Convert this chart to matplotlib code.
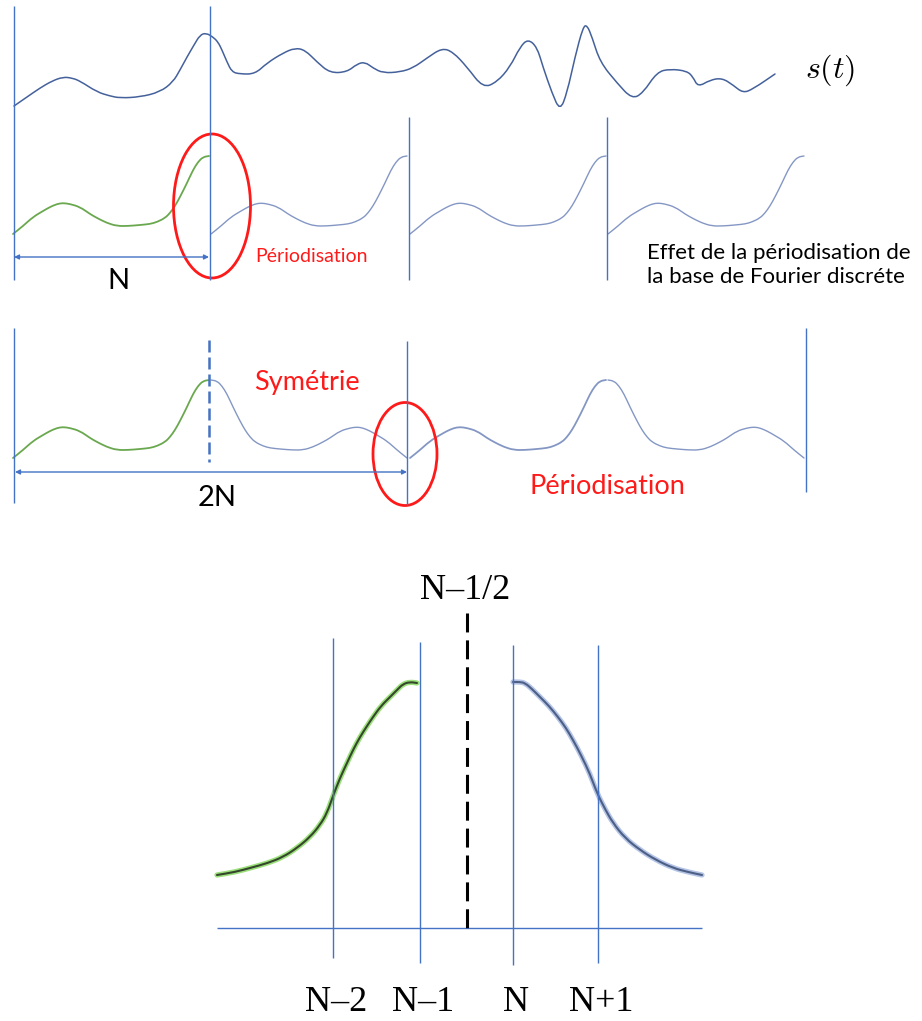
import numpy as np
import matplotlib.pyplot as plt
from matplotlib.patches import Ellipse, PathPatch
from matplotlib.path import Path

plt.rcParams['mathtext.fontset'] = 'cm'

# all coordinates are in image pixels (y grows downwards)

# original signal s(t)
signal_x = [14, 27, 40, 52, 63, 72, 80, 97, 110, 120, 140, 160, 173, 180, 187, 194, 200, 206,
            213, 218, 222, 227, 232, 240, 255, 267, 283, 295, 305, 317, 330, 347, 357, 365,
            373, 383, 400, 413, 427, 442, 453, 467, 483, 497, 510, 520, 528, 537, 543, 552,
            560, 567, 575, 583, 587, 592, 600, 617, 632, 643, 657, 670, 687, 693, 698, 710,
            722, 733, 743, 753, 775]
signal_y = [106, 97, 88, 81, 77, 78, 81, 92, 96, 98, 97, 92, 82, 70, 57, 45, 35, 33,
            37, 42, 50, 62, 72, 74, 74, 63, 53, 48, 50, 62, 73, 72, 64, 62,
            68, 73, 72, 68, 58, 48, 52, 67, 88, 82, 67, 47, 39, 47, 67, 93,
            111, 93, 57, 27, 25, 37, 62, 83, 99, 93, 72, 69, 71, 77, 87, 80,
            78, 85, 93, 89, 74]

# one period of the truncated signal (N samples)
period_x = [13, 23, 33, 43, 50, 57, 63, 70, 80, 90, 97, 107, 117, 128, 140, 150, 157, 165,
            170, 175, 180, 187, 193, 198, 203, 209]
period_y = [234, 226, 217, 211, 207, 204, 203, 204, 207, 214, 218, 223, 226, 226, 225, 224,
            222, 218, 213, 206, 197, 183, 170, 162, 157, 156]

# zoom on the symmetric extension around N-1/2
bell_left_x = [217, 235, 250, 268, 283, 297, 310, 320, 327, 333, 340, 347, 353, 360, 367,
               373, 381, 390, 397, 403, 410, 417]
bell_left_y = [875, 872, 868, 863, 857, 848, 837, 825, 813, 796, 778, 763, 750, 737, 726,
               717, 706, 697, 690, 684, 682, 683]
bell_right_x = [513, 520, 525, 532, 540, 549, 558, 566, 573, 581, 590, 597, 605, 613, 625,
                640, 656, 673, 688, 702]
bell_right_y = [682, 682, 683, 689, 697, 706, 717, 728, 740, 755, 774, 793, 809, 823, 838,
                850, 860, 868, 872, 875]

grid_labels = ['N–2', 'N–1', 'N', 'N+1']
grid_x = [333, 420, 513, 598]

BLUE = '#4472c4'
DARK_BLUE = '#44619b'
LIGHT_BLUE = '#8497c4'
GREEN = '#6aa84f'
RED = '#ff1a1a'
SANS = ['Lato', 'DejaVu Sans']
SERIF = ['Liberation Serif', 'DejaVu Serif']


def smooth_curve(ax, xs, ys, **kw):
    # quadratic bezier through the midpoints, corners become round
    pts = np.column_stack([xs, ys]).astype(float)
    verts = [pts[0], (pts[0] + pts[1]) / 2]
    codes = [Path.MOVETO, Path.LINETO]
    for i in range(1, len(pts) - 1):
        verts += [pts[i], (pts[i] + pts[i + 1]) / 2]
        codes += [Path.CURVE3, Path.CURVE3]
    verts.append(pts[-1])
    codes.append(Path.LINETO)
    ax.add_patch(PathPatch(Path(verts, codes), fill=False, capstyle='round', **kw))


fig = plt.figure(figsize=(9.22, 10.21), dpi=100)
ax = fig.add_axes([0, 0, 1, 1])
ax.set_xlim(0, 922)
ax.set_ylim(1021, 0)
ax.axis('off')

px = np.array(period_x, dtype=float)
py = np.array(period_y, dtype=float)

# --- row 1 : s(t)
smooth_curve(ax, signal_x, signal_y, ec=DARK_BLUE, lw=1.1)
ax.vlines([14, 210], 6, 280, color=BLUE, lw=1.0)
ax.text(830, 70, r'$s(t)$', fontsize=23, ha='center', va='center')

# --- row 2 : periodisation of the DFT basis
smooth_curve(ax, px, py, ec=GREEN, lw=1.3)
for shift in [198, 397, 595]:
    smooth_curve(ax, px + shift, py, ec=LIGHT_BLUE, lw=1.0)
ax.vlines([409, 607], 117, 280, color=BLUE, lw=1.0)
ax.annotate('', xy=(209, 257), xytext=(14, 257),
            arrowprops=dict(arrowstyle='<|-|>', color=BLUE, lw=1.0, mutation_scale=7,
                            shrinkA=0, shrinkB=0))
ax.text(118, 281, 'N', fontsize=21, family=SANS, ha='center', va='center')
ax.add_patch(Ellipse((212, 206), 77, 144, fill=False, ec=RED, lw=2.0))
ax.text(255, 256, 'Périodisation', fontsize=14, family=SANS, color=RED, va='center')
ax.text(647, 265, 'Effet de la périodisation de\nla base de Fourier discréte', fontsize=16,
        family=SANS, va='center', linespacing=1.3)

# --- row 3 : symmetric extension then periodisation
row3 = 224
for shift in [0, 397]:
    smooth_curve(ax, px + shift, py + row3, ec=GREEN if shift == 0 else LIGHT_BLUE, lw=1.3)
    smooth_curve(ax, 420 - px + shift, py + row3, ec=LIGHT_BLUE, lw=1.0)
ax.vlines([14, 806], 328, [503, 492], color=BLUE, lw=1.0)
ax.vlines(407, 341, 505, color=BLUE, lw=1.0)
ax.plot([209, 209], [340, 462], color=BLUE, lw=1.8, linestyle=(0, (4.8, 2.0)))
ax.annotate('', xy=(407, 472), xytext=(15, 472),
            arrowprops=dict(arrowstyle='<|-|>', color=BLUE, lw=1.0, mutation_scale=7,
                            shrinkA=0, shrinkB=0))
ax.text(217, 498, '2N', fontsize=21, family=SANS, ha='center', va='center')
ax.text(307, 382, 'Symétrie', fontsize=19.5, family=SANS, color=RED, ha='center', va='center')
ax.add_patch(Ellipse((405, 454), 64, 103, fill=False, ec=RED, lw=2.0))
ax.text(607, 486, 'Périodisation', fontsize=19.5, family=SANS, color=RED,
        ha='center', va='center')

# --- bottom : zoom around N-1/2
smooth_curve(ax, bell_left_x, bell_left_y, ec='#9be07a', lw=3.8)
smooth_curve(ax, bell_left_x, bell_left_y, ec='#34462c', lw=1.5)
smooth_curve(ax, bell_right_x, bell_right_y, ec='#b4c4e6', lw=3.8)
smooth_curve(ax, bell_right_x, bell_right_y, ec='#4e5f86', lw=1.5)
ax.hlines(928, 217, 702, color=BLUE, lw=1.0)
ax.vlines(grid_x, [638, 642, 645, 645], [958, 963, 965, 963], color=BLUE, lw=1.0)
ax.plot([467, 467], [613, 928], color='black', lw=2.2, linestyle=(0, (6.2, 2.6)))
ax.text(465, 590, 'N–1/2', fontsize=26, family=SERIF, ha='center', va='center')
for gx, lab in zip(grid_x, grid_labels):
    ax.text(gx + 3, 1002, lab, fontsize=26, family=SERIF, ha='center', va='center')

fig.savefig('out.png', dpi=100)
